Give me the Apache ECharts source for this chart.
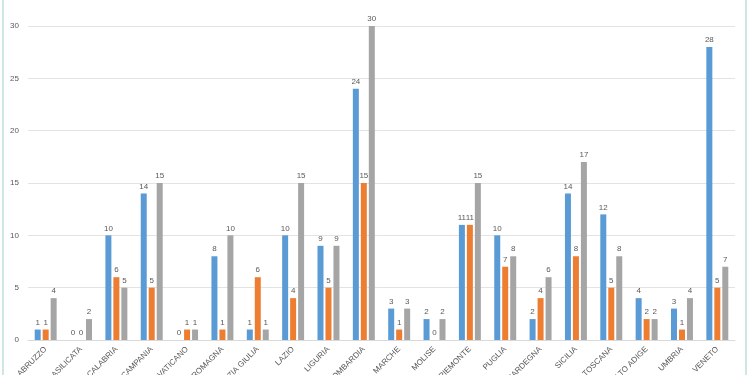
<!DOCTYPE html>
<html><head><meta charset="utf-8">
<script src="https://cdn.jsdelivr.net/npm/echarts@6/dist/echarts.min.js"></script>
<style>html,body{margin:0;padding:0;background:#fff}#c{width:750px;height:375px}</style>
</head><body><div id="c"></div>
<script>
const categories = ['ABRUZZO','BASILICATA','CALABRIA','CAMPANIA','CITTÀ DEL VATICANO','EMILIA ROMAGNA','FRIULI VENEZIA GIULIA','LAZIO','LIGURIA','LOMBARDIA','MARCHE','MOLISE','PIEMONTE','PUGLIA','SARDEGNA','SICILIA','TOSCANA','TRENTINO ALTO ADIGE','UMBRIA','VENETO'];
const seriesA = [1,0,10,14,0,8,1,10,9,24,3,2,11,10,2,14,12,4,3,28];
const seriesB = [1,0,6,5,1,1,6,4,5,15,1,0,11,7,4,8,5,2,1,5];
const seriesC = [4,2,5,15,1,10,1,15,9,30,3,2,15,8,6,17,8,2,4,7];
const yTicks = [0,5,10,15,20,25,30];

const font = 'Liberation Sans, Arial, sans-serif';
const colors = ['#5b9bd5','#ed7d31','#a5a5a5'];
function mk(data, i){
  return {type:'bar', data, barWidth:6, barGap:'33%',
    itemStyle:{color:colors[i]},
    label:{show:true, position:'top', distance:3, color:'#595959', fontSize:8, fontFamily:font}};
}
const chart = echarts.init(document.getElementById('c'), null, {renderer:'canvas'});
chart.setOption({
  animation:false,
  backgroundColor:'#fff',
  grid:{left:28, right:15, top:26, bottom:35, containLabel:false, outerBoundsMode:'none'},
  xAxis:{type:'category', data:categories,
    axisLine:{show:true, lineStyle:{color:'#d9d9d9'}}, axisTick:{show:false},
    axisLabel:{interval:0, rotate:45, fontSize:8, color:'#595959', fontFamily:font, margin:8}},
  yAxis:{type:'value', min:yTicks[0], max:yTicks[yTicks.length-1], interval:5,
    axisLine:{show:false}, axisTick:{show:false},
    splitLine:{lineStyle:{color:'#e3e3e3'}},
    axisLabel:{fontSize:8, color:'#595959', fontFamily:font, margin:9}},
  series:[mk(seriesA,0), mk(seriesB,1), mk(seriesC,2)],
  graphic:[
    {type:'rect', shape:{x:2, y:0, width:2, height:375}, style:{fill:'#cfe6e2'}},
    {type:'rect', shape:{x:745, y:0, width:2, height:375}, style:{fill:'#cfe6e2'}}
  ]
});
</script></body></html>
